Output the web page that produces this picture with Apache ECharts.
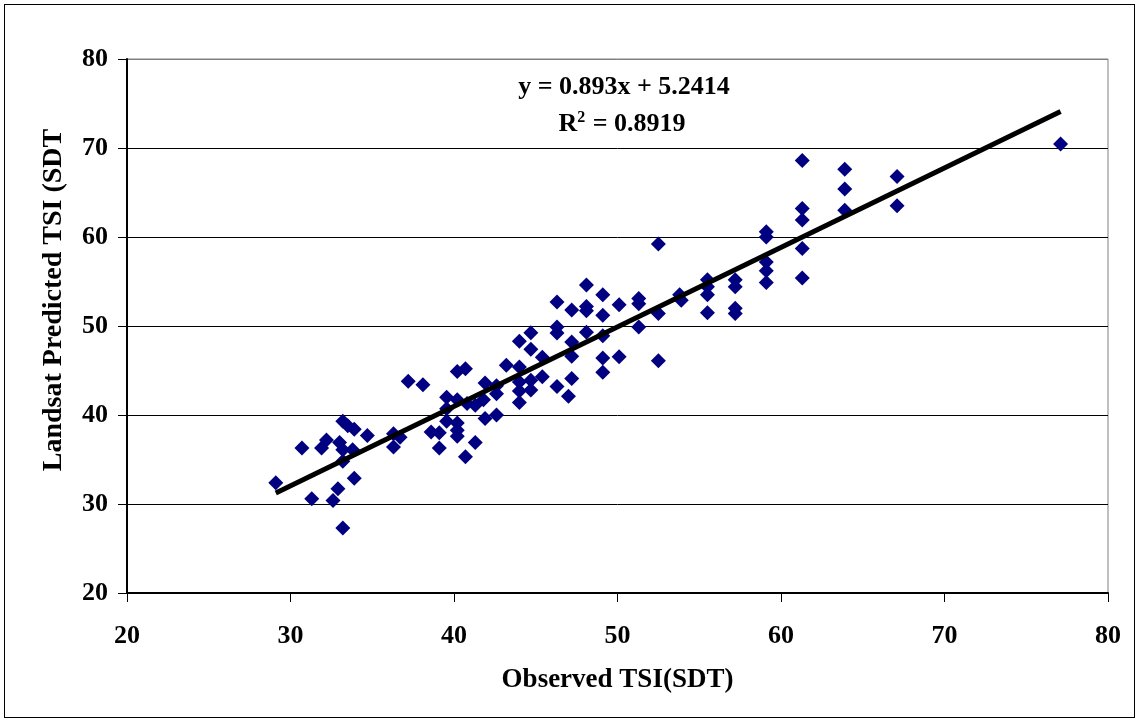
<!DOCTYPE html>
<html>
<head>
<meta charset="utf-8">
<script src="https://cdn.jsdelivr.net/npm/echarts@6/dist/echarts.min.js"></script>
<style>
html,body{margin:0;padding:0;background:#fff;}
#frame{position:absolute;left:4px;top:4px;width:1131px;height:714px;border:1px solid #000;box-sizing:border-box;}
#chart{position:absolute;left:0;top:0;width:1138px;height:721px;}
</style>
</head>
<body>
<div id="frame"></div>
<div id="chart"></div>
<script>
// Observed TSI (SDT) values
var observedTSI = [
  29.1, 30.7, 31.3, 31.9, 32.2, 32.6, 32.9, 33.0, 33.2, 33.5,
  33.9, 33.2, 33.8, 33.2, 33.9, 33.2, 34.7, 36.3, 36.3, 36.7,
  37.2, 38.1, 38.6, 39.1, 39.1, 39.55, 39.55, 39.55, 40.2, 40.2,
  40.2, 40.2, 40.2, 40.7, 40.8, 40.7, 41.3, 41.3, 41.8, 41.9,
  41.9, 42.6, 42.6, 42.6, 43.2, 44.0, 44.0, 44.0, 44.0, 44.0,
  44.7, 44.7, 44.7, 44.7, 45.4, 45.4, 46.3, 46.3, 46.3, 46.3,
  47.0, 47.2, 47.2, 47.2, 47.2, 48.1, 48.1, 48.1, 48.1, 49.1,
  49.1, 49.1, 49.1, 49.1, 50.1, 50.1, 51.3, 51.3, 51.3, 52.5,
  52.5, 52.5, 53.8, 53.9, 55.5, 55.5, 55.5, 55.5, 57.2, 57.2,
  57.2, 57.2, 59.1, 59.1, 59.1, 59.1, 59.1, 61.3, 61.3, 61.3,
  61.3, 61.3, 63.9, 63.9, 63.9, 67.1, 67.1, 77.1
];
// Landsat predicted TSI (SDT) values
var predictedTSI = [
  32.4, 36.3, 30.6, 36.3, 37.2, 30.4, 31.7, 36.9, 39.3, 38.8,
  38.4, 36.1, 36.1, 34.8, 32.9, 27.3, 37.7, 37.9, 36.4, 37.5,
  43.8, 43.4, 38.1, 38.0, 36.3, 42.0, 40.7, 39.3, 41.7, 39.1,
  38.3, 37.6, 44.9, 45.2, 41.3, 35.3, 41.1, 36.9, 41.7, 43.6,
  39.6, 43.3, 42.4, 40.0, 45.6, 45.4, 43.7, 42.7, 41.4, 48.3,
  49.25, 47.4, 43.9, 42.8, 46.5, 44.3, 49.9, 49.2, 52.7, 43.2,
  42.1, 51.8, 48.2, 46.6, 44.1, 54.6, 52.2, 51.7, 49.3, 53.5,
  51.2, 48.9, 46.4, 44.8, 52.4, 46.55, 53.1, 52.5, 49.9, 59.2,
  51.4, 46.1, 53.5, 52.9, 55.2, 54.4, 53.5, 51.5, 55.2, 54.4,
  52.0, 51.4, 60.6, 60.0, 57.2, 56.2, 54.9, 68.6, 63.2, 61.9,
  58.7, 55.4, 67.6, 65.4, 63.0, 66.8, 63.5, 70.45
];
// Linear trend reported on the chart
var trendSlope = 0.893;
var trendIntercept = 5.2414;
var trendRange = [29.1, 77.1];
var xTicks = [20, 30, 40, 50, 60, 70, 80];
var yTicks = [20, 30, 40, 50, 60, 70, 80];
var equationText = 'y = 0.893x + 5.2414';
var r2Value = '0.8919';
var xTitle = 'Observed TSI(SDT)';
var yTitle = 'Landsat Predicted TSI (SDT';

var points = observedTSI.map(function (x, i) { return [x, predictedTSI[i]]; });
var trend = trendRange.map(function (x) { return [x, trendSlope * x + trendIntercept]; });

var font = '"Liberation Serif", "Times New Roman", serif';
var chart = echarts.init(document.getElementById('chart'));
chart.setOption({
  animation: false,
  backgroundColor: 'transparent',
  grid: { left: 127, right: 30, top: 59, bottom: 128, show: true, borderColor: '#808080', borderWidth: 1 },
  xAxis: {
    type: 'value', min: xTicks[0], max: xTicks[xTicks.length - 1], interval: 10,
    name: xTitle, nameLocation: 'middle', nameGap: 74,
    nameTextStyle: { fontFamily: font, fontWeight: 'bold', fontSize: 27, color: '#000' },
    axisLine: { show: true, lineStyle: { color: '#000', width: 2 } },
    axisTick: { show: true, inside: false, length: 9, lineStyle: { color: '#000', width: 1 } },
    axisLabel: { fontFamily: font, fontWeight: 'bold', fontSize: 26, color: '#000', margin: 30 },
    splitLine: { show: false }
  },
  yAxis: {
    type: 'value', min: yTicks[0], max: yTicks[yTicks.length - 1], interval: 10,
    axisLine: { show: true, lineStyle: { color: '#000', width: 2 } },
    axisTick: { show: true, inside: false, length: 9, lineStyle: { color: '#000', width: 1 } },
    axisLabel: { fontFamily: font, fontWeight: 'bold', fontSize: 26, color: '#000', margin: 19 },
    splitLine: { show: true, lineStyle: { color: ['#000', '#000', '#000', '#000', '#000', '#000', '#808080'], width: 1 } }
  },
  series: [
    {
      type: 'scatter', data: points, symbol: 'diamond', symbolSize: 15,
      itemStyle: { color: '#000080', opacity: 1 }, z: 2
    },
    {
      type: 'line', data: trend, symbol: 'none', silent: true,
      lineStyle: { color: '#000', width: 5 }, z: 3
    }
  ],
  graphic: [
    {
      type: 'text', x: 54, y: 300, rotation: Math.PI / 2, z: 10,
      style: { text: yTitle, fill: '#000', font: 'bold 28px ' + font, align: 'center', verticalAlign: 'middle' }
    },
    {
      type: 'text', x: 624, y: 87, z: 10,
      style: { text: equationText, fill: '#000', font: 'bold 26px ' + font, align: 'center', verticalAlign: 'middle' }
    },
    {
      type: 'text', x: 622, y: 124, z: 10,
      style: {
        text: '{b|R}{s|2}{b| = ' + r2Value + '}',
        align: 'center', verticalAlign: 'middle',
        rich: {
          b: { fontFamily: font, fontWeight: 'bold', fontSize: 26, fill: '#000', color: '#000' },
          s: { fontFamily: font, fontWeight: 'bold', fontSize: 16, fill: '#000', color: '#000', verticalAlign: 'top', padding: [0, 1, 12, 0] }
        }
      }
    }
  ]
});
</script>
</body>
</html>
